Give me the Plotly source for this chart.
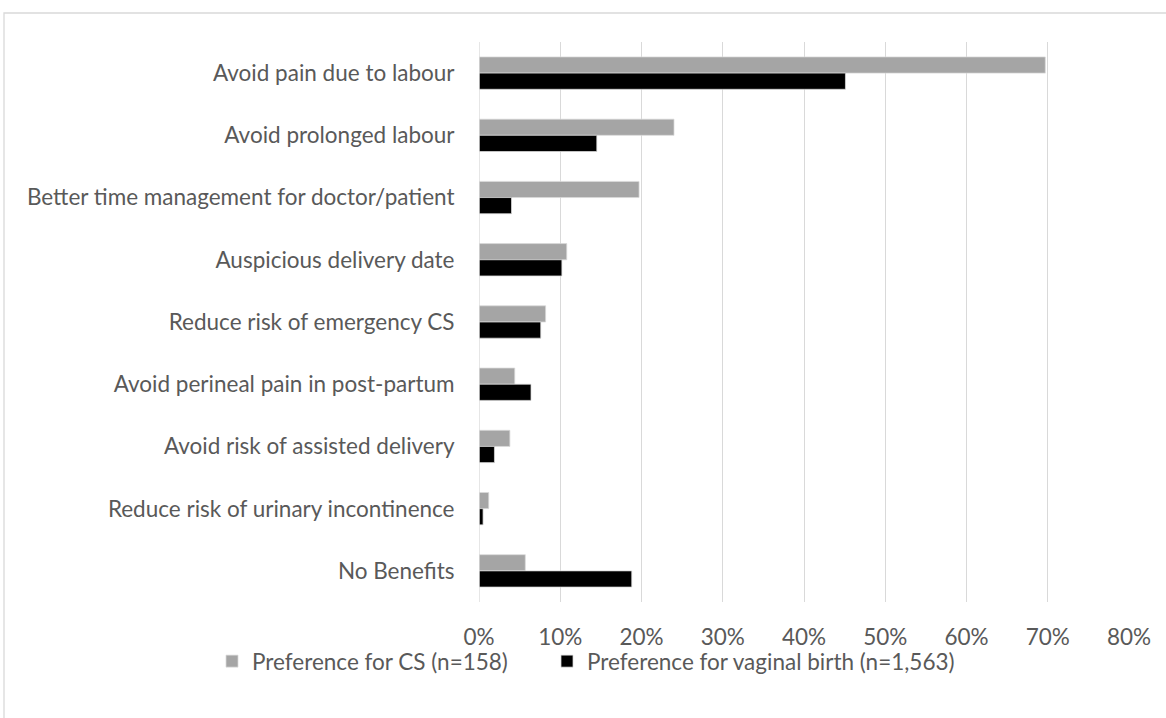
import plotly.graph_objects as go

categories = [
    "Avoid pain due to labour",
    "Avoid prolonged labour",
    "Better time management for doctor/patient",
    "Auspicious delivery date",
    "Reduce risk of emergency CS",
    "Avoid perineal pain in post-partum",
    "Avoid risk of assisted delivery",
    "Reduce risk of urinary incontinence",
    "No Benefits",
]
cs_values = [0.697, 0.240, 0.197, 0.108, 0.082, 0.044, 0.038, 0.012, 0.057]
vaginal_values = [0.451, 0.145, 0.040, 0.102, 0.076, 0.064, 0.019, 0.005, 0.188]
tick_vals = [0, 0.1, 0.2, 0.3, 0.4, 0.5, 0.6, 0.7, 0.8]
tick_text = ["0%", "10%", "20%", "30%", "40%", "50%", "60%", "70%", "80%"]

W, H = 1166, 718
L, R, T, B = 479, 1129, 42, 602

FONT = "Lato, Open Sans, sans-serif"
FS = 22.5
TXT = "#595959"

fig = go.Figure()
fig.add_trace(go.Bar(
    y=categories, x=cs_values, orientation="h",
    name="Preference for CS (n=158)",
    marker=dict(color="#A5A5A5", line=dict(color="#D9D9D9", width=0.75)),
    legend="legend",
))
fig.add_trace(go.Bar(
    y=categories, x=vaginal_values, orientation="h",
    name="Preference for vaginal birth (n=1,563)",
    marker=dict(color="#000000", line=dict(color="#D9D9D9", width=0.75)),
    legend="legend2",
))

def px_to_paper_x(px):
    return (px - L) / (R - L)

def py_to_paper_y(py):
    return (B - py) / (B - T)

legend_common = dict(
    orientation="h", xanchor="left", yanchor="top",
    font=dict(family=FONT, size=FS, color=TXT),
    itemwidth=30, bgcolor="rgba(0,0,0,0)",
)

fig.update_layout(
    width=W, height=H,
    margin=dict(l=L, r=W - R, t=T, b=H - B, autoexpand=False),
    paper_bgcolor="white", plot_bgcolor="white",
    barmode="group", bargap=0.48, bargroupgap=0.0,
    font=dict(family=FONT, size=FS, color=TXT),
    xaxis=dict(
        range=[0, 0.8], tickvals=tick_vals, ticktext=tick_text,
        showgrid=True, gridcolor="#D9D9D9", gridwidth=1.3,
        zeroline=False, showline=False,
        ticks="outside", ticklen=15, tickcolor="rgba(0,0,0,0)",
        tickfont=dict(family=FONT, size=FS, color=TXT),
        fixedrange=True,
    ),
    yaxis=dict(
        autorange="reversed", categoryorder="array", categoryarray=categories,
        showgrid=False, zeroline=False, showline=False,
        ticks="outside", ticklen=19, tickcolor="rgba(0,0,0,0)",
        tickfont=dict(family=FONT, size=FS, color=TXT),
        fixedrange=True,
    ),
    legend=dict(x=px_to_paper_x(212), y=py_to_paper_y(640), **legend_common),
    legend2=dict(x=px_to_paper_x(547), y=py_to_paper_y(640), **legend_common),
    showlegend=True,
)

# Vertical line at 0% (axis line)
fig.add_shape(type="line", xref="x", yref="paper", x0=0, x1=0, y0=0, y1=1,
              line=dict(color="#D9D9D9", width=1.3))

# Outer chart frame (partially cropped)
fig.add_shape(type="rect", xref="paper", yref="paper",
              x0=px_to_paper_x(4), x1=px_to_paper_x(1185),
              y0=py_to_paper_y(740), y1=py_to_paper_y(13),
              line=dict(color="#D9D9D9", width=1.3), layer="below")

fig.write_html(
    "out.html",
    config={"displayModeBar": False},
    post_script="document.body.style.margin='0';document.body.style.padding='0';",
)
